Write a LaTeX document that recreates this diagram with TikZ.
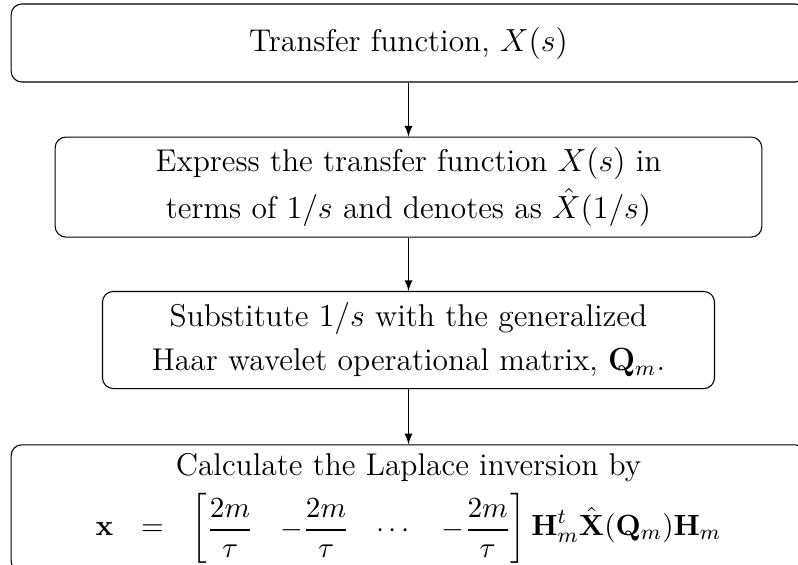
\documentclass[tikz,border=0pt]{standalone}
\usepackage{amsmath}
\usetikzlibrary{positioning,arrows}

\tikzset{stepbox/.style={draw, rectangle, rounded corners=4pt, align=center, font=\fontsize{11.8}{14}\selectfont}}

\begin{document}
\begin{tikzpicture}[x=0.375pt, y=-0.375pt, auto]
    \clip (0,0) rectangle (798,564);
    \node (tf) [stepbox, minimum width=298pt, minimum height=29.25pt] at (408.5,43) {Transfer function, $X(s)$};
    \node (expr) [stepbox, below=20.25pt of tf, minimum width=265pt, minimum height=37.5pt] {Express the transfer function $X(s)$ in\\[2.5pt] terms of $1/s$ and denotes as $\hat{X}(1/s)$};
    \node (subs) [stepbox, below=20pt of expr, minimum width=229.5pt, minimum height=36.4pt] {Substitute $1/s$ with the generalized\\[2.5pt] Haar wavelet operational matrix, $\mathbf{Q}_m$.};
    \node (inv) [stepbox, below=20.7pt of subs, minimum width=298pt, anchor=north] {Calculate the Laplace inversion by\\[3pt] {\fontsize{11.2}{14}\selectfont $\displaystyle \mathbf{x}\ \ =\ \ \begin{bmatrix}\dfrac{2m}{\tau} & -\dfrac{2m}{\tau} & \cdots & -\dfrac{2m}{\tau}\end{bmatrix}\mathbf{H}_m^t\hat{\mathbf{X}}(\mathbf{Q}_m)\mathbf{H}_m$}};

    \draw[-latex] (tf) -- (expr);
    \draw[-latex] (expr) -- (subs);
    \draw[-latex] (subs) -- (inv);
\end{tikzpicture}
\end{document}
